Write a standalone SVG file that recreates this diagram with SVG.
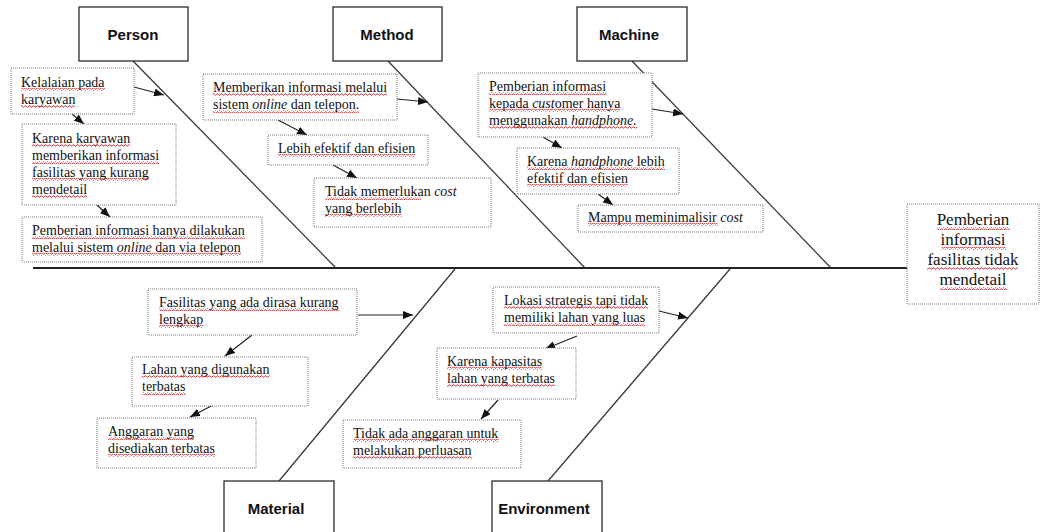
<svg xmlns="http://www.w3.org/2000/svg" width="1040" height="532" viewBox="0 0 1040 532">
  <style>
    .cat rect { fill: #fff; stroke: #2b2b2b; stroke-width: 1.3; }
    .cat text { font-family: "Liberation Sans", Arial, sans-serif; font-weight: bold; font-size: 15px; fill: #111; text-anchor: middle; }
    .note rect { fill: #fff; stroke: #777; stroke-width: 1; stroke-dasharray: 1 1; }
    .note text { font-family: "Liberation Serif", "Times New Roman", serif; font-size: 14px; fill: #111; }
    .effect text { font-size: 17px; text-anchor: middle; }
    .bone { stroke: #333; stroke-width: 1.2; fill: none; }
    .spine { stroke: #222; stroke-width: 1.8; fill: none; }
    .arrow { stroke: #222; stroke-width: 1.2; fill: none; marker-end: url(#head); }
    .sq { fill: url(#squiggle); }
  </style>
  <defs>
    <marker id="head" viewBox="0 0 10 8" refX="10" refY="4" markerWidth="10" markerHeight="8" markerUnits="userSpaceOnUse" orient="auto">
      <path d="M0,0 L10,4 L0,8 Z" fill="#111"/>
    </marker>
    <pattern id="squiggle" width="4" height="3" patternUnits="userSpaceOnUse">
      <path d="M0,2.2 L1,0.8 L2,0.8 L3,2.2 L4,2.2" stroke="#e02020" stroke-width="0.8" fill="none"/>
    </pattern>
  </defs>

  <!-- spine and bones -->
  <g id="connectors">
    <line class="spine" x1="33" y1="268" x2="907" y2="268"/>
    <line class="bone" x1="133" y1="61" x2="336" y2="268"/>
    <line class="bone" x1="388" y1="61" x2="585" y2="268"/>
    <line class="bone" x1="632" y1="61" x2="831" y2="268"/>
    <line class="bone" x1="455" y1="269" x2="279" y2="481"/>
    <line class="bone" x1="730" y1="269" x2="548" y2="481"/>

    <line class="arrow" x1="134" y1="87" x2="164" y2="95"/>
    <line class="arrow" x1="72" y1="114" x2="84" y2="124"/>
    <line class="arrow" x1="97" y1="205" x2="110" y2="217"/>
    <line class="arrow" x1="397" y1="99" x2="428" y2="102"/>
    <line class="arrow" x1="278" y1="120" x2="307" y2="135"/>
    <line class="arrow" x1="333" y1="165" x2="357" y2="178"/>
    <line class="arrow" x1="652" y1="109" x2="683" y2="114"/>
    <line class="arrow" x1="543" y1="137" x2="562" y2="148"/>
    <line class="arrow" x1="598" y1="194" x2="613" y2="205"/>
    <line class="arrow" x1="358" y1="315" x2="413" y2="315"/>
    <line class="arrow" x1="252" y1="335" x2="225" y2="356"/>
    <line class="arrow" x1="217" y1="403" x2="190" y2="417"/>
    <line class="arrow" x1="659" y1="311" x2="688" y2="318"/>
    <line class="arrow" x1="577" y1="336" x2="545" y2="349"/>
    <line class="arrow" x1="498" y1="400" x2="481" y2="419"/>
  </g>

  <!-- category headers -->
  <g id="person" class="cat">
    <rect x="79" y="7" width="109" height="54"/>
    <text x="133" y="40">Person</text>
  </g>
  <g id="method" class="cat">
    <rect x="333" y="7" width="109" height="54"/>
    <text x="387" y="40">Method</text>
  </g>
  <g id="machine" class="cat">
    <rect x="577" y="7" width="110" height="54"/>
    <text x="629" y="40">Machine</text>
  </g>
  <g id="material" class="cat">
    <rect x="224" y="481" width="110" height="60"/>
    <text x="276" y="514">Material</text>
  </g>
  <g id="environment" class="cat">
    <rect x="492" y="481" width="110" height="60"/>
    <text x="544" y="514">Environment</text>
  </g>

  <!-- effect -->
  <g id="effect" class="note effect">
    <rect x="907" y="204" width="132" height="100"/>
    <text x="973" y="225">Pemberian</text>
    <text x="973" y="245">informasi</text>
    <text x="973" y="265">fasilitas tidak</text>
    <text x="973" y="285">mendetail</text>
  </g>

  <!-- person causes -->
  <g id="person-1" class="note">
    <rect x="11" y="68" width="123" height="46"/>
    <text x="21" y="87">Kelalaian pada</text>
    <text x="21" y="104">karyawan</text>
  </g>
  <g id="person-2" class="note">
    <rect x="22" y="124" width="154" height="81"/>
    <text x="32" y="143">Karena karyawan</text>
    <text x="32" y="160">memberikan informasi</text>
    <text x="32" y="177">fasilitas yang kurang</text>
    <text x="32" y="194">mendetail</text>
  </g>
  <g id="person-3" class="note">
    <rect x="22" y="217" width="240" height="45"/>
    <text x="32" y="235">Pemberian informasi hanya dilakukan</text>
    <text x="32" y="252">melalui sistem <tspan font-style="italic">online</tspan> dan via telepon</text>
  </g>

  <!-- method causes -->
  <g id="method-1" class="note">
    <rect x="203" y="74" width="194" height="46"/>
    <text x="213" y="92">Memberikan informasi melalui</text>
    <text x="213" y="109">sistem <tspan font-style="italic">online</tspan> dan telepon.</text>
  </g>
  <g id="method-2" class="note">
    <rect x="268" y="135" width="160" height="30"/>
    <text x="278" y="153">Lebih efektif dan efisien</text>
  </g>
  <g id="method-3" class="note">
    <rect x="314" y="178" width="177" height="49"/>
    <text x="325" y="196">Tidak memerlukan <tspan font-style="italic">cost</tspan></text>
    <text x="325" y="213">yang berlebih</text>
  </g>

  <!-- machine causes -->
  <g id="machine-1" class="note">
    <rect x="478" y="73" width="174" height="64"/>
    <text x="489" y="91">Pemberian informasi</text>
    <text x="489" y="108">kepada <tspan font-style="italic">cust</tspan>omer hanya</text>
    <text x="489" y="125">menggunakan <tspan font-style="italic">handphone.</tspan></text>
  </g>
  <g id="machine-2" class="note">
    <rect x="517" y="148" width="162" height="46"/>
    <text x="527" y="166">Karena <tspan font-style="italic">handphone</tspan> lebih</text>
    <text x="527" y="183">efektif dan efisien</text>
  </g>
  <g id="machine-3" class="note">
    <rect x="578" y="205" width="185" height="27"/>
    <text x="588" y="222">Mampu meminimalisir <tspan font-style="italic">cost</tspan></text>
  </g>

  <!-- material causes -->
  <g id="material-1" class="note">
    <rect x="148" y="289" width="209" height="46"/>
    <text x="159" y="307">Fasilitas yang ada dirasa kurang</text>
    <text x="159" y="324">lengkap</text>
  </g>
  <g id="material-2" class="note">
    <rect x="132" y="357" width="176" height="49"/>
    <text x="142" y="374">Lahan yang digunakan</text>
    <text x="142" y="391">terbatas</text>
  </g>
  <g id="material-3" class="note">
    <rect x="97" y="418" width="159" height="50"/>
    <text x="108" y="436">Anggaran yang</text>
    <text x="108" y="453">disediakan terbatas</text>
  </g>

  <!-- environment causes -->
  <g id="environment-1" class="note">
    <rect x="493" y="287" width="166" height="46"/>
    <text x="504" y="305">Lokasi strategis tapi tidak</text>
    <text x="504" y="322">memiliki lahan yang luas</text>
  </g>
  <g id="environment-2" class="note">
    <rect x="437" y="348" width="139" height="51"/>
    <text x="447" y="366">Karena kapasitas</text>
    <text x="447" y="383">lahan yang terbatas</text>
  </g>
  <g id="environment-3" class="note">
    <rect x="343" y="420" width="178" height="48"/>
    <text x="353" y="438">Tidak ada anggaran untuk</text>
    <text x="353" y="455">melakukan perluasan</text>
  </g>

  <!-- spell-check underlines -->
  <g id="spellcheck">
    <rect class="sq" x="21" y="88" width="84" height="3"/>
    <rect class="sq" x="21" y="105" width="54" height="3"/>
    <rect class="sq" x="32" y="144" width="98" height="3"/>
    <rect class="sq" x="32" y="161" width="127" height="3"/>
    <rect class="sq" x="32" y="178" width="117" height="3"/>
    <rect class="sq" x="32" y="195" width="55" height="3"/>
    <rect class="sq" x="32" y="236" width="213" height="3"/>
    <rect class="sq" x="32" y="253" width="209" height="3"/>
    <rect class="sq" x="213" y="93" width="174" height="3"/>
    <rect class="sq" x="213" y="110" width="146" height="3"/>
    <rect class="sq" x="278" y="154" width="137" height="3"/>
    <rect class="sq" x="325" y="197" width="96" height="3"/>
    <rect class="sq" x="325" y="214" width="77" height="3"/>
    <rect class="sq" x="489" y="92" width="117" height="3"/>
    <rect class="sq" x="489" y="109" width="131" height="3"/>
    <rect class="sq" x="489" y="126" width="148" height="3"/>
    <rect class="sq" x="527" y="167" width="138" height="3"/>
    <rect class="sq" x="527" y="184" width="101" height="3"/>
    <rect class="sq" x="588" y="223" width="130" height="3"/>
    <rect class="sq" x="159" y="308" width="180" height="3"/>
    <rect class="sq" x="159" y="325" width="44" height="3"/>
    <rect class="sq" x="142" y="375" width="128" height="3"/>
    <rect class="sq" x="142" y="392" width="44" height="3"/>
    <rect class="sq" x="108" y="437" width="86" height="3"/>
    <rect class="sq" x="108" y="454" width="107" height="3"/>
    <rect class="sq" x="504" y="306" width="144" height="3"/>
    <rect class="sq" x="504" y="323" width="141" height="3"/>
    <rect class="sq" x="447" y="367" width="95" height="3"/>
    <rect class="sq" x="447" y="384" width="108" height="3"/>
    <rect class="sq" x="353" y="439" width="146" height="3"/>
    <rect class="sq" x="353" y="456" width="119" height="3"/>
    <rect class="sq" x="937" y="227" width="73" height="3"/>
    <rect class="sq" x="941" y="247" width="65" height="3"/>
    <rect class="sq" x="927" y="267" width="91" height="3"/>
    <rect class="sq" x="940" y="287" width="67" height="3"/>
  </g>
</svg>
